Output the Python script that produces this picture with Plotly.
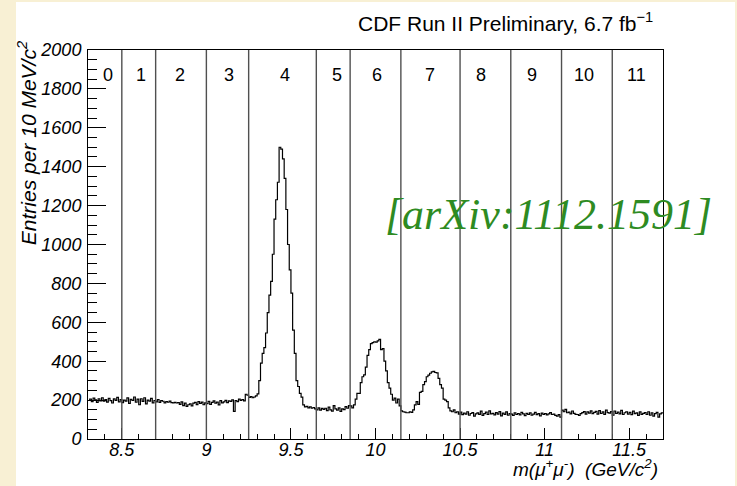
import plotly.graph_objects as go

# ---------------- data ----------------
mass_lo, mass_hi, bin_width = 8.3, 11.7, 0.01
counts = [
    198, 205, 192, 210, 201, 188, 207, 196, 212, 194,   # 8.30
    203, 190, 209, 197, 185, 206, 199, 214, 191, 202,   # 8.40
    187, 200, 195, 211, 183, 204, 198, 216, 189, 205,   # 8.50
    176, 207, 193, 212, 181, 200, 195, 209, 186, 198,   # 8.60
    191, 203, 188, 197, 194, 186, 192, 189, 195, 187,   # 8.70
    186, 188, 185, 187, 178, 191, 172, 184, 168, 176,   # 8.80
    181, 170, 184, 188, 177, 192, 183, 190, 176, 186,   # 8.90
    182, 193, 178, 188, 196, 184, 190, 175, 197, 186,   # 9.00
    191, 199, 187, 196, 193, 201, 142, 198, 192, 205,   # 9.10
    199, 203, 196, 230, 225, 214, 218, 212, 216, 222,   # 9.20
    232, 300, 390, 440, 470, 545, 650, 740, 810, 950,   # 9.30
    1130, 1230, 1320, 1500, 1490, 1440, 1340, 1180, 1000, 870,  # 9.40
    750, 560, 440, 300, 270, 235, 215, 175, 165, 168,   # 9.50
    160, 165, 158, 162, 155, 150, 160, 148, 157, 152,   # 9.60
    158, 146, 164, 150, 143, 172, 155, 148, 160, 142,   # 9.70
    155, 151, 166, 158, 172, 170, 160, 175, 205, 235,   # 9.80
    235, 290, 320, 330, 370, 430, 460, 490, 495, 500,   # 9.90
    498, 505, 512, 460, 465, 400, 350, 290, 262, 230,   # 10.00
    200, 210, 185, 205, 170, 145, 140, 138, 135, 135,   # 10.10
    140, 137, 150, 175, 192, 178, 240, 245, 280, 295,   # 10.20
    320, 328, 338, 345, 348, 342, 340, 312, 280, 262,   # 10.30
    205, 200, 192, 160, 145, 140, 150, 135, 140, 128,   # 10.40
    138, 125, 133, 128, 140, 122, 131, 136, 118, 129,   # 10.50
    134, 127, 143, 121, 130, 138, 126, 145, 129, 132,   # 10.60
    124, 136, 128, 141, 119, 133, 127, 139, 122, 130,   # 10.70
    128, 121, 135, 126, 131, 124, 137, 129, 120, 132,   # 10.80
    126, 134, 122, 128, 137, 125, 130, 119, 133, 127,   # 10.90
    131, 124, 129, 136, 126, 128, 121, 118, 125, 112,   # 11.00
    148, 140, 152, 135, 138, 129, 144, 132, 127, 126,   # 11.10
    121, 130, 136, 141, 128, 139, 133, 145, 130, 137,   # 11.20
    142, 128, 146, 131, 139, 127, 148, 136, 133, 141,   # 11.30
    122, 144, 131, 138, 129, 147, 126, 135, 140, 128,   # 11.40
    137, 125, 143, 130, 134, 121, 139, 127, 132, 136,   # 11.50
    126, 140, 122, 135, 118, 130, 137, 112, 129, 134,   # 11.60
]
region_edges = [8.5, 8.7, 9.0, 9.25, 9.65, 9.85, 10.15, 10.5, 10.8, 11.1, 11.4]
region_labels = ["0", "1", "2", "3", "4", "5", "6", "7", "8", "9", "10", "11"]
region_label_x = [8.42, 8.614, 8.845, 9.131, 9.466, 9.772, 10.009, 10.324,
                  10.624, 10.924, 11.234, 11.545]

# ---------------- figure ----------------
n_bins = len(counts)
edges = [round(mass_lo + i * bin_width, 4) for i in range(n_bins + 1)]
step_y = counts + [counts[-1]]

BEIGE = "#f8f0d4"
FONT = "Liberation Sans, Arial, Helvetica, sans-serif"

fig = go.Figure()
fig.add_trace(go.Scatter(
    x=edges, y=step_y, mode="lines", line_shape="hv",
    line=dict(color="black", width=1.2), hoverinfo="skip", showlegend=False,
))

shapes = [dict(type="rect", xref="paper", yref="paper",
               x0=-0.1252, x1=1.1252, y0=-0.1208, y1=1.1234,
               fillcolor="white", line=dict(width=0), layer="below")]
for e in region_edges:
    shapes.append(dict(type="line", xref="x", yref="paper", x0=e, x1=e, y0=0, y1=1,
                       line=dict(color="#505050", width=1.4), layer="above"))

annotations = []
for lab, lx in zip(region_labels, region_label_x):
    annotations.append(dict(x=lx, y=0.937, xref="x", yref="paper", text=lab,
                            showarrow=False, xanchor="center", yanchor="middle",
                            font=dict(family=FONT, size=18, color="black")))

annotations += [
    dict(x=0.986, y=1.072, xref="paper", yref="paper",
         text="CDF Run II Preliminary, 6.7 fb<sup>\u22121</sup>",
         showarrow=False, xanchor="right", yanchor="middle",
         font=dict(family=FONT, size=21, color="black")),
    dict(x=-0.106, y=1.028, xref="paper", yref="paper",
         text="Entries per 10 MeV/c<sup>2</sup>", textangle=-90,
         showarrow=False, xanchor="center", yanchor="top",
         font=dict(family=FONT, size=21, color="black", style="italic")),
    dict(x=0.9948, y=-0.0746, xref="paper", yref="paper",
         text="m(\u03bc<sup>+</sup>\u03bc<sup>-</sup>)\u00a0\u00a0(GeV/c<sup>2</sup>)",
         showarrow=False, xanchor="right", yanchor="middle",
         font=dict(family=FONT, size=19, color="black", style="italic")),
    dict(x=0.80, y=0.578, xref="paper", yref="paper",
         text="[arXiv:1112.1591]",
         showarrow=False, xanchor="center", yanchor="middle",
         font=dict(family="Liberation Serif, DejaVu Serif, serif", size=44,
                   color="#2e8b22", style="italic")),
]

fig.update_layout(
    width=737, height=486,
    margin=dict(l=88, r=74, t=50, b=47),
    paper_bgcolor=BEIGE, plot_bgcolor="white",
    shapes=shapes, annotations=annotations,
    showlegend=False,
)
fig.update_xaxes(
    range=[mass_lo, mass_hi], tickmode="linear", tick0=0, dtick=0.5,
    ticks="inside", ticklen=11, tickwidth=1, tickcolor="black",
    minor=dict(tickmode="linear", tick0=0, dtick=0.1, ticks="inside",
               ticklen=5, tickwidth=1, tickcolor="black", showgrid=False),
    showline=True, linecolor="black", linewidth=1, mirror=True,
    showgrid=False, zeroline=False, ticklabelstandoff=-6,
    tickfont=dict(family=FONT, size=18, color="black", style="italic"),
)
fig.update_yaxes(
    range=[0, 2000], tickmode="linear", tick0=0, dtick=200,
    ticks="inside", ticklen=18, tickwidth=1, tickcolor="black",
    minor=dict(tickmode="linear", tick0=0, dtick=50, ticks="inside",
               ticklen=9, tickwidth=1, tickcolor="black", showgrid=False),
    showline=True, linecolor="black", linewidth=1, mirror=True,
    showgrid=False, zeroline=False, ticklabelstandoff=2,
    tickfont=dict(family=FONT, size=18, color="black", style="italic"),
)

fig.write_html("out.html", config={"displayModeBar": False},
               post_script="document.body.style.margin='0';document.body.style.padding='0';")
